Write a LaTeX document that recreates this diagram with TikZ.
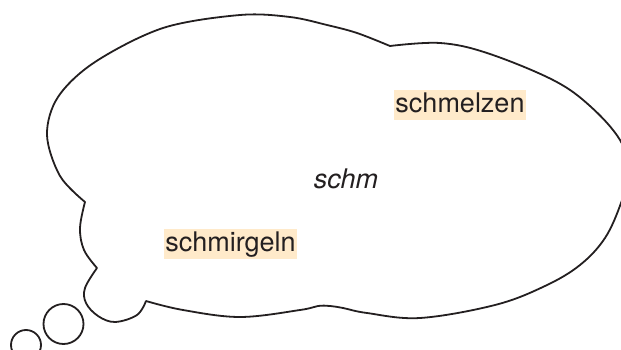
\documentclass[tikz,border=0pt]{standalone}
\usepackage{fontspec}
\setmainfont{TeX Gyre Heros}
\definecolor{ink}{HTML}{231F20}
\definecolor{marker}{HTML}{FFEACA}
\tikzset{
  cloudline/.style={draw=ink, line width=1.8pt, line join=round},
  tagword/.style={fill=marker, text=ink, font=\fontsize{27}{30}\selectfont,
    inner xsep=1.5pt, inner ysep=3pt, text height=19pt, text depth=5pt},
  stem/.style={font=\fontsize{27}{30}\selectfont\itshape, text=ink, inner sep=0pt}
}
\begin{document}
\begin{tikzpicture}[x=1pt, y=-1pt]
\useasboundingbox (0,0) rectangle (621,350);
% thought cloud outline, lobe by lobe
\path[cloudline]
  plot[smooth, tension=0.55] coordinates {(85,202) (60,176) (47,135) (58,97) (95,62) (163,28) (240,15) (290,17) (327,25) (357,33) (390,46)}
  -- plot[smooth, tension=0.6] coordinates {(390,46) (440,43) (487,53) (553,80) (590,106) (620,140) (629,172) (621,203) (605,238) (580,265) (545,286) (495,305) (420,318) (367,313) (343,308) (330,306) (318,306) (300,310) (240,317) (183,310) (146,301)}
  -- plot[smooth, tension=0.6] coordinates {(146,301) (137,315) (115,322) (98,316) (86,303) (85,288) (97,268)}
  -- plot[smooth, tension=0.6] coordinates {(97,268) (84,250) (80,228) (85,202)}
  -- cycle;
% trailing bubbles
\draw[cloudline] (63.5,324) circle[radius=20pt];
\draw[cloudline] (26,345) circle[radius=15pt];
% words
\node[tagword] (melt) at (460,105.5) {schmelzen};
\node[tagword] (grind) at (230.5,244) {schmirgeln};
\node[stem, anchor=base] (root) at (346,188) {schm};
\end{tikzpicture}
\end{document}
